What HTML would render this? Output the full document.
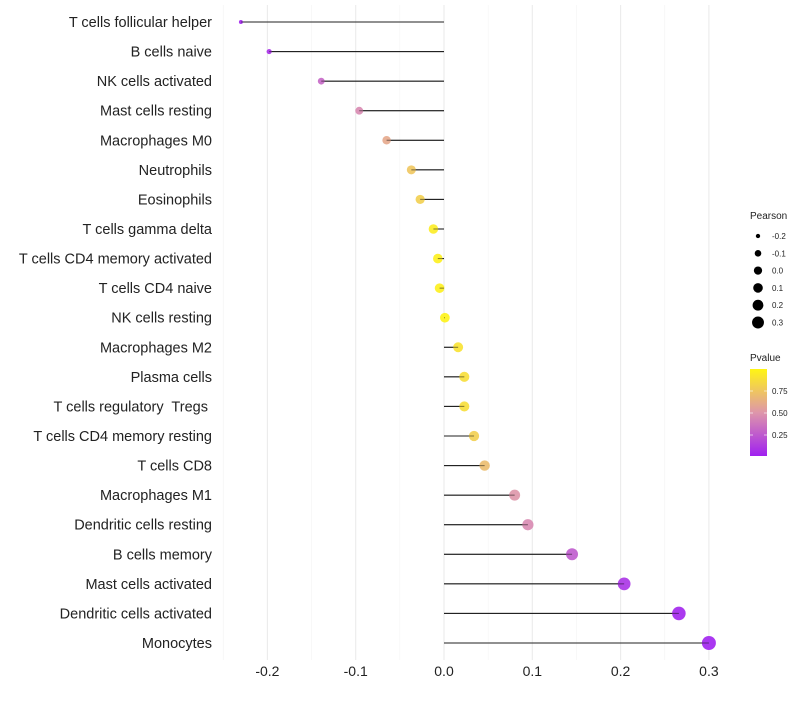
<!DOCTYPE html>
<html><head><meta charset="utf-8"><style>
body{margin:0;background:#fff;font-family:"Liberation Sans",sans-serif}
text{white-space:pre}
</style></head><body>
<svg id="c" width="800" height="700" xmlns="http://www.w3.org/2000/svg"></svg>
<script>
const categories=["T cells follicular helper","B cells naive","NK cells activated","Mast cells resting","Macrophages M0","Neutrophils","Eosinophils","T cells gamma delta","T cells CD4 memory activated","T cells CD4 naive","NK cells resting","Macrophages M2","Plasma cells","T cells regulatory  Tregs ","T cells CD4 memory resting","T cells CD8","Macrophages M1","Dendritic cells resting","B cells memory","Mast cells activated","Dendritic cells activated","Monocytes"];
const pearson=[-0.23,-0.198,-0.139,-0.096,-0.065,-0.037,-0.027,-0.012,-0.007,-0.005,0.001,0.016,0.023,0.023,0.034,0.046,0.08,0.095,0.145,0.204,0.266,0.3];
const pvalue=[0.02,0.06,0.3,0.45,0.6,0.75,0.8,0.95,0.97,0.97,0.99,0.9,0.88,0.88,0.8,0.7,0.5,0.45,0.25,0.08,0.02,0.01];
const xTicks=[-0.2,-0.1,0.0,0.1,0.2,0.3];
const sizeLegend=[-0.2,-0.1,0.0,0.1,0.2,0.3];
const pTicks=[0.25,0.5,0.75];
const NS="http://www.w3.org/2000/svg";
const svg=document.getElementById('c');
function el(t,a,p){const e=document.createElementNS(NS,t);for(const k in a)e.setAttribute(k,a[k]);(p||svg).appendChild(e);return e;}
const X=v=>444+v*883;
const Y=i=>22+i*(643-22)/(categories.length-1);
const R=v=>Math.sqrt(Math.max(1,23.5+84.9*v));
function col(p){const s=[[0,[160,32,240]],[0.5,[222,150,170]],[1,[255,245,20]]];let a=s[0],b=s[1];if(p>0.5){a=s[1];b=s[2];}const t=(p-a[0])/(b[0]-a[0]);const c=a[1].map((x,i)=>Math.round(x+(b[1][i]-x)*t));return `rgb(${c})`;}
for(let v=-0.25;v<=0.31;v+=0.05){const g=el('line',{x1:X(v),x2:X(v),y1:5,y2:660,stroke:Math.abs(Math.round(v*20))%2===0?'#ebebeb':'#f3f3f3','stroke-width':Math.abs(Math.round(v*20))%2===0?1.1:0.6});

}
xTicks.forEach(v=>{const t=el('text',{x:X(v),y:676,'text-anchor':'middle','font-size':14,fill:'#222'});t.textContent=v.toFixed(1);

});
categories.forEach((c,i)=>{const y=Y(i);
const t=el('text',{x:212,y:y+5,'text-anchor':'end','font-size':14.5,fill:'#222'});t.textContent=c;


const l=el('line',{x1:X(0),x2:X(pearson[i]),y1:y,y2:y,stroke:'#222','stroke-width':1.1});


const d=el('circle',{cx:X(pearson[i]),cy:y,r:R(pearson[i]),fill:col(pvalue[i]),'fill-opacity':0.9});


const l2=el('line',{x1:X(0),x2:X(pearson[i]),y1:y,y2:y,stroke:'#222','stroke-width':1,'stroke-opacity':0.5});


});
let t=el('text',{x:750,y:219,'font-size':10,fill:'#222'});t.textContent='Pearson';


sizeLegend.forEach((v,i)=>{const y=236+i*17.3;
const c=el('circle',{cx:758,cy:y,r:R(v)*0.85,fill:'#000'});


const tt=el('text',{x:772,y:y+3,'font-size':8,fill:'#222'});tt.textContent=v.toFixed(1);

});
t=el('text',{x:750,y:361,'font-size':10,fill:'#222'});t.textContent='Pvalue';


const defs=el('defs',{});const lg=el('linearGradient',{id:'g',x1:0,y1:1,x2:0,y2:0},defs);
[0,0.25,0.5,0.75,1].forEach(o=>el('stop',{offset:o,'stop-color':col(o)},lg));
const bar=el('rect',{x:750,y:369,width:17,height:87,fill:'url(#g)'});


pTicks.forEach(p=>{const y=457-p*88;
el('line',{x1:750,x2:753,y1:y,y2:y,stroke:'#fff','stroke-opacity':0.6});el('line',{x1:764,x2:767,y1:y,y2:y,stroke:'#fff','stroke-opacity':0.6});
const tt=el('text',{x:772,y:y+3,'font-size':8,fill:'#222'});tt.textContent=p.toFixed(2);

});
</script>
</body></html>
